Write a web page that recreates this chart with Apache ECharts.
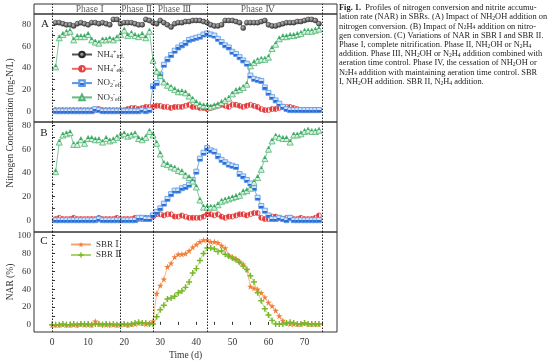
<!DOCTYPE html>
<html><head><meta charset="utf-8">
<script src="https://cdn.jsdelivr.net/npm/echarts@6/dist/echarts.min.js"></script>
<style>html,body{margin:0;padding:0;background:#fff}#c{width:554px;height:363px}</style>
</head><body><div id="c"></div>
<script>
const daysAB = [1,2,3,4,5,6,7,8,9,10,11,12,13,14,15,16,17,18,19,20,21,22,23,24,25,26,27,28,29,30,31,32,33,34,35,36,37,38,39,40,41,42,43,44,45,46,47,48,49,50,51,52,53,54,55,56,57,58,59,60,61,62,63,64,65,66,67,68,69,70,71,72,73,74];
const daysC = [0,1,2,3,4,5,6,7,8,9,10,11,12,13,14,15,16,17,18,19,20,21,22,23,24,25,26,27,28,29,30,31,32,33,34,35,36,37,38,39,40,41,42,43,44,45,46,47,48,49,50,51,52,53,54,55,56,57,58,59,60,61,62,63,64,65,66,67,68,69,70,71,72,73,74];

const nh4InfA = [82,82,81,80,80,79,81,82,81,80, 82,82,81,82,81,80,85,85,81,82, 82,82,81,80,80,85,84,82,81,84,
  82,80,78,81,82,82,83, 83,84,84,84,83,82, 80,79,79,80, 84,84,84,83,82, 77, 82,82,82,82,83,84, 80,79,79,80, 81,82,82,82,83,83, 84,85,85,84,81];
const nh4EffA = [1,1,1,1,1,1,1,1,1,1, 1,1,2,1,1,1,1,1,1,1, 2,3,3,2,3,4,4,4,5,5, 4,4,3,4,4,4,5,6,4,4,
  3,3,2,3,4,5,6,5,4,6, 6,5,4,5,6,5,4,2,1,1, 2,2,3,4,4,4,3,2,1,1, 1,1,1,1];
const no2EffA = [0,0,0,0,0,0,0,0,0,0, 0,2,1,0,0,0,0,0,0,0, 0,0,0,0,1,0,1,23,26,34, 43,48,52,56,59,61,63,66,67,68,
  69,71,72,71,70,67,64,61,59,55, 53,50,47,44,33,30,29,28,22,17, 13,10,7,4,2,1,1,1,1,1, 1,1,1,1];
const no3EffA = [41,68,71,73,74,66,69,69,69,71, 66,64,63,66,66,67,66,68,71,75, 70,72,70,69,71,68,74,47,37,33,
  27,24,22,20,18,18,17,14,11,8, 6,5,5,4,5,6,8,10,12,16, 19,20,22,25,42,45,47,48,48,50, 58,62,67,69,69,70,70,71,72,74, 74,74,75,76];

const nh4EffB = [1,2,1,1,1,2,1,1,1,1, 1,1,2,1,1,1,1,2,1,1, 1,1,2,1,1,2,2,
  3, 5,5,4,5,5, 3,3,4,3,2, 2,2,2,3, 5,5,4,5, 3,2,3,3, 4,5,5,4,5, 6,6, 2,1,1, 3,3,2, 1,2,2,1,1,2,1,1,1,2,4];
const no2EffB = [0,0,0,0,0,0,0,0,0,0, 0,0,1,0,0,0,0,0,0,0, 0,0,0,2,2,1,1,
  4,7,10,14,18,22,25,25,27,28, 30,34,41,52,57,61,59,58,54,51, 49,47,46,45,39,37,34,31,27,19, 12,8,4,1,1,2,1,0,2,0, 0,0,0,0,0,0,0];
const no3EffB = [41,66,72,73,74,64,64,68,65,69, 69,68,68,66,69,67,68,70,72,73, 71,72,73,69,68,70,75,72,65,56,
  48,47,45,44,42,41,38,36,33,28, 17,11,11,11,11,13,16,17,18,19, 20,21,24,25,27,32,36,43,52,60, 67,71,70,69,69,66,72,72,73,75, 76,75,75,76];

const narSBR1 = [0,0,0,0,0,0,0,0,1,0, 0,0,4,1,1,0,1,0,0,0, 1,0,1,1,2,2,1,2,4,35, 44,51,65,69,76,79,79,80,83,87,
  90,93,95,95,93,93,92,89,86,78, 76,74,71,68,62,43,41,40,36,31, 25,21,16,10,5,2,1,1,1,1, 2,1,1,1,1];
const narSBR2 = [0,0,0,1,0,0,1,0,1,1, 1,0,1,1,0,1,0,1,0,1, 1,0,1,2,3,2,2,1,1,9, 17,22,29,30,32,36,38,42,48,58,
  63,72,80,86,86,85,82,83,79,77, 75,73,70,66,62,55,48,36,27,18, 11,5,1,1,1,2,3,2,1,1, 2,1,1,1,1];

const phaseBounds = [0, 19, 28, 43, 75];
const phaseNames = ['Phase Ⅰ', 'Phase Ⅱ', 'Phase Ⅲ', 'Phase Ⅳ'];
const phaseCenters = [10.5, 23.5, 34, 57];
const xTicks = [0,5,10,15,20,25,30,35,40,45,50,55,60,65,70,75];
const xLabels = [0,10,20,30,40,50,60,70];
const yTicksN = [0,10,20,30,40,50,60,70,80];
const yLabelsN = [0,20,40,60,80];
const yTicksC = [0,10,20,30,40,50,60,70,80,90,100];
const yLabelsC = [0,20,40,60,80,100];

const SERIF = "'Liberation Serif','DejaVu Serif','Times New Roman',serif";
const TXT = '#333';

function zip(xs, ys){ return xs.map((x,i)=>[x, ys[i]]); }
function lin(c1, c2, horiz){
  return {type:'linear', x:0, y:0, x2: horiz?1:0, y2: horiz?0:1,
    colorStops:[{offset:0,color:c1},{offset:0.5,color:c1},{offset:0.5,color:c2},{offset:1,color:c2}]};
}
const sty = {
  NH4inf: {symbol:'circle', size:5, line:'#555', item:{color:{type:'radial',x:0.35,y:0.35,r:0.75,colorStops:[{offset:0,color:'#b8b8b8'},{offset:1,color:'#2a2a2a'}]}, borderColor:'#2a2a2a', borderWidth:0.5}},
  NH4eff: {symbol:'circle', size:5, line:'#ef6b6b', item:{color:lin('#e33b3b','#fde0e0',true), borderColor:'#e64545', borderWidth:0.8}},
  NO2eff: {symbol:'rect', size:5, line:'#5b95e6', item:{color:lin('#d4e4fa','#2b6bd6',false), borderColor:'#5b98e8', borderWidth:0.8}},
  NO3eff: {symbol:'triangle', size:6, line:'#62bb80', item:{color:lin('#35a05e','#d8f1de',false), borderColor:'#4fb573', borderWidth:0.8}}
};
const STAR = 'path://M50,0 L61,35 L98,35 L68,57 L79,91 L50,70 L21,91 L32,57 L2,35 L39,35 Z';
const PLUS = 'path://M38,0 H62 V38 H100 V62 H62 V100 H38 V62 H0 V38 H38 Z';

const vLines = {silent:true, symbol:'none', label:{show:false}, animation:false,
  lineStyle:{color:'#222', type:[1.5,1.5], width:1}, data: phaseBounds.map(v=>({xAxis:v}))};

function mkSeries(name, xi, xs, ys, withLines){
  const s = sty[name];
  const o = {name, type:'line', xAxisIndex:xi, yAxisIndex:xi, data: zip(xs, ys),
    symbol:s.symbol, symbolSize:s.size, showAllSymbol:true,
    lineStyle:{color:s.line, width:0.8}, itemStyle:s.item, color:s.line, z:3};
  if (withLines) o.markLine = vLines;
  return o;
}

const gridL = 34, gridW = 303;
const grids = [
  {left:gridL, width:gridW, top:4, height:10},
  {left:gridL, width:gridW, top:14, height:108},
  {left:gridL, width:gridW, top:122, height:110},
  {left:gridL, width:gridW, top:232, height:100}
].map(g=>Object.assign(g,{show:true, borderColor:'#333', borderWidth:1, containLabel:false, outerBoundsMode:'none'}));

const xAxes = [0,1,2,3].map(i=>({
  type:'value', gridIndex:i, min:-5, max:79,
  axisLine:{show:false}, splitLine:{show:false},
  axisTick:{show:i===3, inside:true, length:3, customValues:xTicks, lineStyle:{color:'#333'}},
  axisLabel:{show:i===3, customValues:xLabels, fontFamily:SERIF, fontSize:9.5, color:TXT, margin:5},
  name: i===3 ? 'Time (d)' : '', nameLocation:'middle', nameGap:18,
  nameTextStyle:{fontFamily:SERIF, fontSize:9.5, color:TXT}
}));
function yAx(i, min, max, ticks, labels){
  return {type:'value', gridIndex:i, min, max,
    axisLine:{show:false}, splitLine:{show:false},
    axisTick:{show:true, inside:true, length:3, customValues:ticks, lineStyle:{color:'#333'}},
    axisLabel:{show:true, customValues:labels, fontFamily:SERIF, fontSize:9, color:TXT, margin:3}};
}
const yAxes = [
  {type:'value', gridIndex:0, min:0, max:1, show:false},
  yAx(1, -10, 90, yTicksN, yLabelsN),
  yAx(2, -10, 83, yTicksN, yLabelsN),
  yAx(3, -8, 104, yTicksC, yLabelsC)
];

const series = [
  {name:'phase', type:'scatter', xAxisIndex:0, yAxisIndex:0, symbolSize:0,
   data: phaseNames.map((n,i)=>({name:n, value:[phaseCenters[i], 0.5]})),
   label:{show:true, position:'inside', formatter:'{b}', fontFamily:SERIF, fontSize:9.5, color:TXT},
   markLine: vLines},
  mkSeries('NH4inf', 1, daysAB, nh4InfA, true),
  mkSeries('NH4eff', 1, daysAB, nh4EffA),
  mkSeries('NO2eff', 1, daysAB, no2EffA),
  mkSeries('NO3eff', 1, daysAB, no3EffA),
  mkSeries('NH4eff', 2, daysAB, nh4EffB, true),
  mkSeries('NO2eff', 2, daysAB, no2EffB),
  mkSeries('NO3eff', 2, daysAB, no3EffB),
  {name:'SBR Ⅰ', type:'line', xAxisIndex:3, yAxisIndex:3, data:zip(daysC, narSBR1), symbol:STAR, symbolSize:6.5,
   lineStyle:{color:'#f5a272', width:0.8}, itemStyle:{color:'#f27d38'}, color:'#f27d38', markLine:vLines},
  {name:'SBR Ⅱ', type:'line', xAxisIndex:3, yAxisIndex:3, data:zip(daysC, narSBR2), symbol:PLUS, symbolSize:6,
   lineStyle:{color:'#a8d468', width:0.8}, itemStyle:{color:'#78b82a'}, color:'#78b82a'}
];

const legLabels = {
  NH4inf:'{m|NH}{s|4}{p|+}{s|inf.}', NH4eff:'{m|NH}{s|4}{p|+}{s|eff.}',
  NO2eff:'{m|NO}{s|2}{p|-}{s|eff.}', NO3eff:'{m|NO}{s|3}{p|-}{s|eff.}'
};
const richSub = {
  m:{fontFamily:SERIF, fontSize:9, color:TXT},
  s:{fontFamily:SERIF, fontSize:6, color:TXT, padding:[4,0,0,0]},
  p:{fontFamily:SERIF, fontSize:6, color:TXT, padding:[0,0,5,0]},
  b:{fontFamily:SERIF, fontSize:8.4, color:'#222', fontWeight:'bold'},
  t:{fontFamily:SERIF, fontSize:8.4, color:'#222'},
  u:{fontFamily:SERIF, fontSize:5.6, color:'#222', padding:[3,0,0,0]}
};

const captionLines = [
  '{b|Fig. 1.}{t|  Profiles of nitrogen conversion and nitrite accumu-}',
  '{t|lation rate (NAR) in SBRs. (A) Impact of NH}{u|2}{t|OH addition on}',
  '{t|nitrogen conversion. (B) Impact of N}{u|2}{t|H}{u|4}{t| addition on nitro-}',
  '{t|gen conversion. (C) Variations of NAR in SBR I and SBR II.}',
  '{t|Phase I, complete nitrification. Phase II, NH}{u|2}{t|OH or N}{u|2}{t|H}{u|4}',
  '{t|addition. Phase III, NH}{u|2}{t|OH or N}{u|2}{t|H}{u|4}{t| addition combined with}',
  '{t|aeration time control. Phase IV, the cessation of NH}{u|2}{t|OH or}',
  '{t|N}{u|2}{t|H}{u|4}{t| addition with maintaining aeration time control. SBR}',
  '{t|I, NH}{u|2}{t|OH addition. SBR II, N}{u|2}{t|H}{u|4}{t| addition.}'
];

const graphics = [
  {type:'text', x:45, y:24, style:{text:'A', font:"11px "+SERIF, fill:'#222', align:'center', verticalAlign:'middle', textAlign:'center', textVerticalAlign:'middle'}},
  {type:'text', x:44, y:133, style:{text:'B', font:"11px "+SERIF, fill:'#222', align:'center', verticalAlign:'middle', textAlign:'center', textVerticalAlign:'middle'}},
  {type:'text', x:44, y:241, style:{text:'C', font:"11px "+SERIF, fill:'#222', align:'center', verticalAlign:'middle', textAlign:'center', textVerticalAlign:'middle'}},
  {type:'text', x:10, y:123, rotation:Math.PI/2, style:{text:'Nitrogen Concentration (mg-N/L)', font:"9.5px "+SERIF, fill:TXT, align:'center', verticalAlign:'middle', textAlign:'center', textVerticalAlign:'middle'}},
  {type:'text', x:10, y:282, rotation:Math.PI/2, style:{text:'NAR (%)', font:"9.5px "+SERIF, fill:TXT, align:'center', verticalAlign:'middle', textAlign:'center', textVerticalAlign:'middle'}}
].concat(captionLines.map((ln,i)=>({type:'text', x:339, y:8 + i*9.2,
  style:{text:ln, rich:richSub, fill:'#222', align:'left', verticalAlign:'middle', textAlign:'left', textVerticalAlign:'middle'}})));

const chart = echarts.init(document.getElementById('c'), null, {renderer:'canvas'});
chart.setOption({
  animation:false,
  backgroundColor:'#fff',
  grid:grids, xAxis:xAxes, yAxis:yAxes, series,
  legend:[
    {data:['NH4inf','NH4eff','NO2eff','NO3eff'], orient:'vertical', left:66, top:44, itemWidth:20, itemHeight:7, itemGap:3.8,
     formatter:n=>legLabels[n], textStyle:{fontFamily:SERIF, fontSize:9, color:TXT, rich:richSub}, selectedMode:false},
    {data:['SBR Ⅰ','SBR Ⅱ'], orient:'vertical', left:65, top:235, itemWidth:20, itemHeight:7, itemGap:1.5,
     textStyle:{fontFamily:SERIF, fontSize:9, color:TXT}, selectedMode:false}
  ],
  graphic: graphics
});
</script></body></html>
